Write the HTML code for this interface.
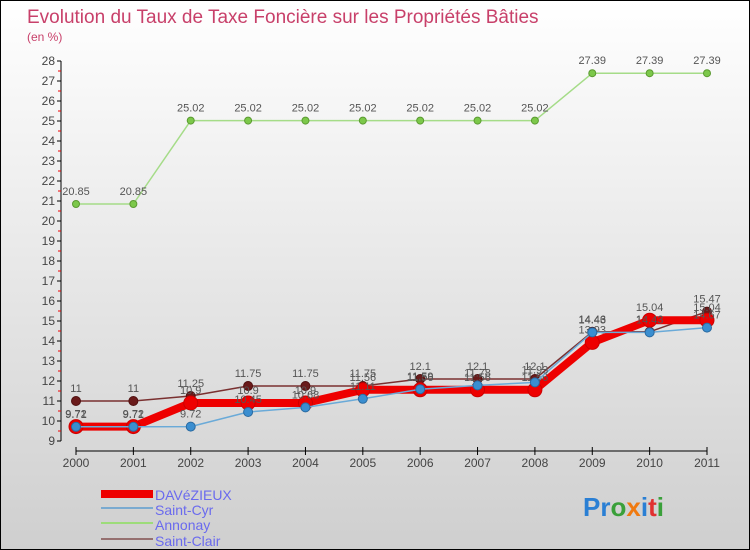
<!DOCTYPE html>
<html><head><meta charset="utf-8"><style>
body{margin:0}
#c{width:748px;height:548px;border:1px solid #000;background:linear-gradient(#fff,#cfcfcf);position:relative;font-family:"Liberation Sans",sans-serif;overflow:hidden}
svg{position:absolute;left:0;top:0}
</style></head><body>
<div id="c">
<svg id="s" width="748" height="548">
<text x="26" y="22" font-size="19" fill="#c8406a">Evolution du Taux de Taxe Foncière sur les Propriétés Bâties</text>
<text x="26" y="40" font-size="12" fill="#c8406a">(en %)</text>
<g id="legend">
<rect x="100" y="489" width="52" height="8" fill="#e00"/>
<text x="154" y="499" font-size="14" fill="#6a6aee">DAVéZIEUX</text>
<rect x="100" y="506" width="52" height="2" fill="#7aaad0"/>
<text x="154" y="514" font-size="14" fill="#6a6aee">Saint-Cyr</text>
<rect x="100" y="521" width="52" height="2" fill="#9ddc7a"/>
<text x="154" y="529" font-size="14" fill="#6a6aee">Annonay</text>
<rect x="100" y="537" width="52" height="2" fill="#957070"/>
<text x="154" y="545" font-size="14" fill="#6a6aee">Saint-Clair</text>
</g>
<text x="582" y="515" font-size="26" font-weight="bold"><tspan fill="#2a7fd4">Pr</tspan><tspan fill="#3aa03a">o</tspan><tspan fill="#f07a10">x</tspan><tspan fill="#2a7fd4">i</tspan><tspan fill="#e03030">t</tspan><tspan fill="#3aa03a">i</tspan></text>
</svg>
</div>
<script>
const years=["2000","2001","2002","2003","2004","2005","2006","2007","2008","2009","2010","2011"];
const yTicks=[9,10,11,12,13,14,15,16,17,18,19,20,21,22,23,24,25,26,27,28];
const davezieux=[9.72,9.72,10.9,10.9,10.9,11.56,11.56,11.56,11.56,13.93,15.04,15.04];
const saintCyr=[9.71,9.71,9.72,10.45,10.68,11.11,11.59,11.78,11.93,14.43,14.43,14.67];
const annonay=[20.85,20.85,25.02,25.02,25.02,25.02,25.02,25.02,25.02,27.39,27.39,27.39];
const saintClair=[11,11,11.25,11.75,11.75,11.75,12.1,12.1,12.1,14.46,14.46,15.47];
const NS="http://www.w3.org/2000/svg",s=document.getElementById('s');
const X=i=>75+i*(706-75)/(years.length-1);
const Y=v=>440-(v-9)*20;
function mk(t,a,p){const e=document.createElementNS(NS,t);for(const k in a)e.setAttribute(k,a[k]);(p||s).appendChild(e);return e;}
const ax=mk('g',{});


let l=mk('line',{x1:60,y1:60,x2:60,y2:440,stroke:'#000'},ax);


yTicks.forEach(v=>{mk('line',{x1:56,x2:60,y1:Y(v),y2:Y(v),stroke:'#000'},ax);
if(v<28)mk('line',{x1:57,x2:60,y1:Y(v+0.5),y2:Y(v+0.5),stroke:'#e00'},ax);
const t=mk('text',{x:54,y:Y(v)+4,'font-size':12,fill:'#444','text-anchor':'end'},ax);t.textContent=v;

});
l=mk('line',{x1:75,y1:450,x2:706,y2:450,stroke:'#000'},ax);


years.forEach((y,i)=>{mk('line',{x1:X(i),x2:X(i),y1:446,y2:454,stroke:'#000'},ax);
const t=mk('text',{x:X(i),y:466,'font-size':12,fill:'#444','text-anchor':'middle'},ax);t.textContent=y;

});
function series(name,d,col,w,r,fill,stroke,lab){
const g=mk('g',{});


const p=mk('polyline',{points:d.map((v,i)=>X(i)+','+Y(v)).join(' '),fill:'none',stroke:col,'stroke-width':w,'stroke-linejoin':'round'},g);


d.forEach((v,i)=>{const c=mk('circle',{cx:X(i),cy:Y(v),r:r,fill:fill,stroke:stroke,'stroke-width':1},g);


const t=mk('text',{x:X(i),y:Y(v)-9,'font-size':11,fill:'#555','text-anchor':'middle'},g);t.textContent=String(v).replace('.',',').replace(',', '.');

});}
series('annonay',annonay,'#a5dc88',1.5,3.5,'#7cc84a','#5a9a30');
series('saint-clair',saintClair,'#7a3030',1.5,4.5,'#6a1a1a','#501010');
series('davezieux',davezieux,'#ee0000',8,7,'#ee0000','#c00');
series('saint-cyr',saintCyr,'#6aaad8',1.5,4.5,'#3a8ed0','#2a6aa0');
</script>
</body></html>
